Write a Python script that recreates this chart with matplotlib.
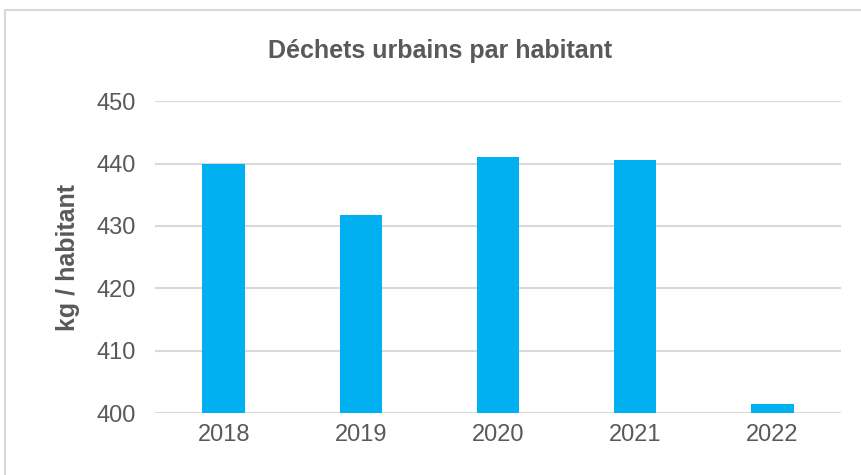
import matplotlib.pyplot as plt
from matplotlib.patches import Rectangle

# Données
annees = ['2018', '2019', '2020', '2021', '2022']
dechets = [440.0, 431.8, 441.0, 440.5, 401.5]
graduations = [400, 410, 420, 430, 440, 450]

gris_texte = '#595959'

fig = plt.figure(figsize=(8.62, 4.75), dpi=100)
ax = fig.add_axes([0.18, 0.1305, 0.7956, 0.6565])

ax.bar(annees, dechets, width=0.31, color='#00B0F0', zorder=3)

ax.set_ylim(400, 450)
ax.set_xlim(-0.5, len(annees) - 0.5)
ax.set_yticks(graduations)
ax.grid(axis='y', color='#D9D9D9', linewidth=1.5, zorder=0)
for s in ax.spines.values():
    s.set_visible(False)
ax.tick_params(length=0, labelsize=17, labelcolor=gris_texte)
ax.tick_params(axis='x', pad=8)
ax.tick_params(axis='y', pad=14)
for lab in ax.get_xticklabels() + ax.get_yticklabels():
    lab.set_family('Liberation Sans')

ax.set_ylabel('kg / habitant', fontsize=18, fontweight='bold',
              color=gris_texte, family='Liberation Sans', labelpad=12)
fig.text(0.51, 0.893, 'Déchets urbains par habitant', ha='center', va='center',
         fontsize=18, fontweight='bold', color=gris_texte, family='Liberation Sans')

# Cadre du graphique
fig.patches.append(Rectangle((0.006, -0.01), 1.0, 0.99, transform=fig.transFigure,
                             fill=False, edgecolor='#D9D9D9', linewidth=1.5))

fig.savefig('out.png', dpi=100)
